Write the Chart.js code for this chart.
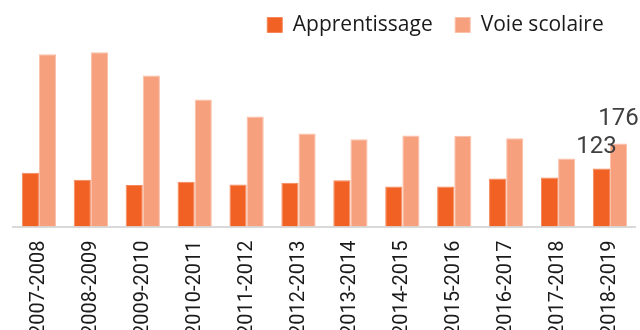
<!DOCTYPE html>
<html>
<head>
<meta charset="utf-8">
<script src="https://cdn.jsdelivr.net/npm/chart.js@4.4.0/dist/chart.umd.min.js"></script>
<style>
  html, body { margin: 0; padding: 0; background: #fff; overflow: hidden; }
  #wrap { position: relative; width: 648px; height: 350px; }
</style>
</head>
<body>
<div id="wrap"><canvas id="chart"></canvas></div>
<script>
const years = ['2007-2008', '2008-2009', '2009-2010', '2010-2011', '2011-2012', '2012-2013',
  '2013-2014', '2014-2015', '2015-2016', '2016-2017', '2017-2018', '2018-2019'];
const apprentissage = [114, 99, 88, 95, 89, 93, 98, 85, 85, 102, 104, 123];
const voieScolaire = [365, 369, 320, 269, 233, 197, 185, 193, 192, 187, 144, 176];

// only the latest year gets its value written above the bars
const labelledIndex = years.length - 1;
const labelOffsets = [{ dx: -5, dy: 15 }, { dx: 0, dy: 18 }];

const lastValueLabels = {
  id: 'lastValueLabels',
  afterDatasetsDraw(chart) {
    const ctx = chart.ctx;
    ctx.save();
    ctx.font = '24px Roboto';
    ctx.fillStyle = '#404040';
    ctx.textAlign = 'center';
    ctx.textBaseline = 'alphabetic';
    chart.data.datasets.forEach((ds, i) => {
      const bar = chart.getDatasetMeta(i).data[labelledIndex];
      const off = labelOffsets[i];
      ctx.fillText(ds.data[labelledIndex], bar.x + off.dx, bar.y - off.dy);
    });
    ctx.restore();
  }
};

// nudge the legend toward the right of the header
const legendShift = {
  id: 'legendShift',
  afterLayout(chart) {
    chart.legend.left += 105;
    chart.legend.right += 105;
  }
};

new Chart(document.getElementById('chart'), {
  type: 'bar',
  data: {
    labels: years,
    datasets: [
      {
        label: 'Apprentissage',
        data: apprentissage,
        backgroundColor: '#F26124',
        borderColor: '#F5875A',
        borderWidth: 1
      },
      {
        label: 'Voie scolaire',
        data: voieScolaire,
        backgroundColor: '#F7A07E',
        borderColor: '#FAC0A8',
        borderWidth: 1
      }
    ]
  },
  options: {
    responsive: true,
    maintainAspectRatio: false,
    animation: false,
    layout: { padding: { left: 13, right: 0, top: -8, bottom: 0 } },
    datasets: { bar: { categoryPercentage: 0.66, barPercentage: 1.0 } },
    plugins: {
      legend: {
        position: 'top',
        align: 'center',
        maxHeight: 48,
        labels: {
          font: { family: 'Open Sans', size: 21 },
          color: '#1a1a1a',
          boxWidth: 15,
          boxHeight: 15,
          padding: 22.5
        }
      },
      tooltip: { enabled: false }
    },
    scales: {
      x: {
        grid: { display: false, drawTicks: false },
        border: { display: true, color: '#d9d9d9', width: 2 },
        ticks: {
          font: { family: 'Roboto', size: 20 },
          color: '#1a1a1a',
          minRotation: 90,
          maxRotation: 90,
          padding: 14
        }
      },
      y: {
        display: false,
        min: 0,
        max: 395
      }
    }
  },
  plugins: [lastValueLabels, legendShift]
});
</script>
</body>
</html>
